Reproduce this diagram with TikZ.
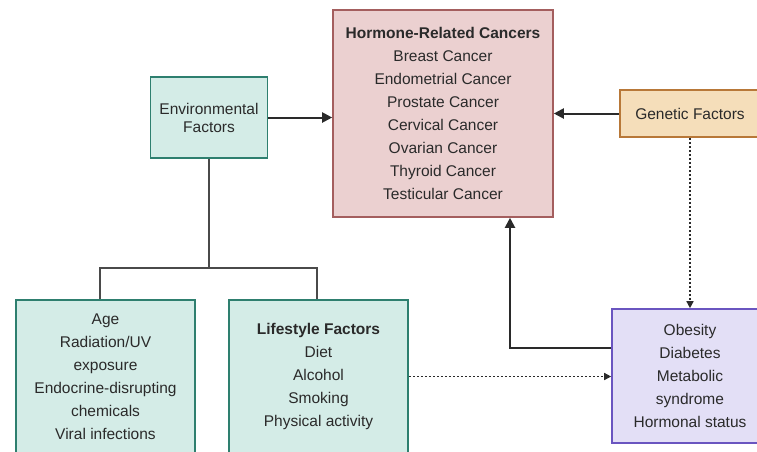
\documentclass[tikz,border=0pt]{standalone}
\usepackage{fontspec}
\setmainfont{Liberation Sans}
\usetikzlibrary{arrows.meta}
\definecolor{tealfill}{HTML}{D4ECE7}
\definecolor{tealdraw}{HTML}{2E7F6F}
\definecolor{redfill}{HTML}{EBD0D0}
\definecolor{reddraw}{HTML}{A45E5E}
\definecolor{orfill}{HTML}{F5DEBA}
\definecolor{ordraw}{HTML}{B87838}
\definecolor{pufill}{HTML}{E3DFF6}
\definecolor{pudraw}{HTML}{6A55C0}
\definecolor{ink}{HTML}{2A2A2A}
\tikzset{
  box/.style={rectangle, line width=1.6pt, inner sep=0pt, align=center, text=ink,
              font=\fontsize{15.5}{23}\selectfont},
  teal/.style={box, draw=tealdraw, fill=tealfill},
  arr/.style={draw=ink, line width=2pt, -{Triangle[length=10pt,width=10pt]}},
  dotarr/.style={draw=ink, line width=1.4pt, dash pattern=on 2pt off 2pt, -{Triangle[length=7pt,width=7pt]}},
  brline/.style={draw=ink!85, line width=1.4pt},
}
\begin{document}
\begin{tikzpicture}[x=1pt,y=-1pt]
\useasboundingbox (0,0) rectangle (757,451);
\clip (0,0) rectangle (757,451);
% nodes
\node[box, draw=reddraw, fill=redfill, minimum width=220pt, minimum height=207pt]
  (canc) at (443,113.5) {\textbf{Hormone-Related Cancers}\\Breast Cancer\\Endometrial Cancer\\Prostate Cancer\\Cervical Cancer\\Ovarian Cancer\\Thyroid Cancer\\Testicular Cancer};
\node[teal, minimum width=117pt, minimum height=81pt, font=\fontsize{15.5}{18}\selectfont]
  (env) at (209,117.5) {Environmental\\Factors};
\node[box, draw=ordraw, fill=orfill, minimum width=140pt, minimum height=47pt]
  (gen) at (690,113.5) {Genetic Factors};
\node[teal, minimum width=179pt, minimum height=153pt]
  (age) at (105.5,376.5) {Age\\Radiation/UV\\exposure\\Endocrine-disrupting\\chemicals\\Viral infections};
\node[teal, minimum width=179pt, minimum height=153pt]
  (life) at (318.5,376.5) {\textbf{Lifestyle Factors}\\Diet\\Alcohol\\Smoking\\Physical activity};
\node[box, draw=pudraw, fill=pufill, minimum width=156pt, minimum height=134pt]
  (obes) at (690,376) {Obesity\\Diabetes\\Metabolic\\syndrome\\Hormonal status};
% connectors
\draw[arr] (env.east) -- (env.east -| canc.west);
\draw[arr] (gen.west) -- (gen.west -| canc.east);
\coordinate (br) at (env.south |- 0,268);
\draw[brline] (env.south) -- (br);
\draw[brline] ([xshift=-5.5pt]age.north) |- (br) -| ([xshift=-1.5pt]life.north);
\draw[arr] ([yshift=28pt]obes.west) -| ([xshift=67pt]canc.south);
\draw[dotarr] (life.east) -- (life.east -| obes.west);
\draw[dotarr] (gen.south) -- (obes.north);
\end{tikzpicture}
\end{document}
